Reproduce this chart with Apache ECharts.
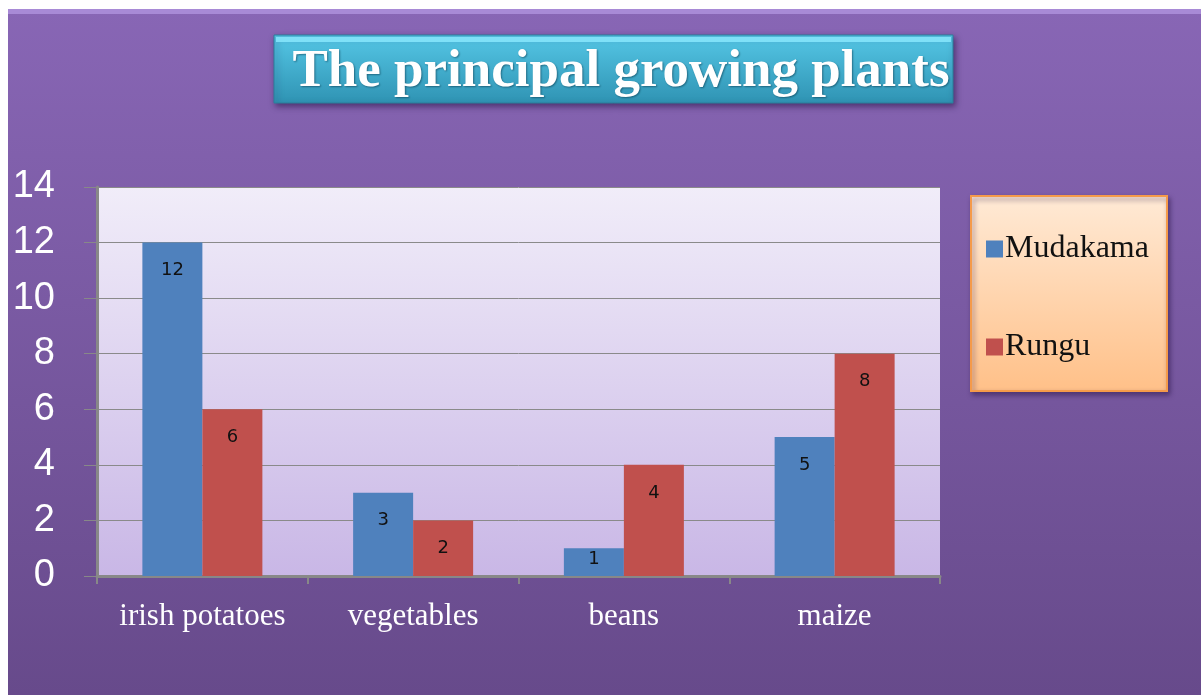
<!DOCTYPE html>
<html>
<head>
<meta charset="utf-8">
<script src="https://cdn.jsdelivr.net/npm/echarts@6/dist/echarts.min.js"></script>
<style>
  html, body { margin: 0; padding: 0; background: #fff; }
  #container { width: 1201px; height: 695px; }
</style>
</head>
<body>
<div id="container"></div>
<script>
const categories = ['irish potatoes', 'vegetables', 'beans', 'maize'];
const mudakama = [12, 3, 1, 5];
const rungu = [6, 2, 4, 8];

const chart = echarts.init(document.getElementById('container'));

const vgrad = (top, bottom) => new echarts.graphic.LinearGradient(0, 0, 0, 1, [
  { offset: 0, color: top },
  { offset: 1, color: bottom }
]);

const barLabel = {
  show: true,
  position: 'insideTop',
  distance: 19,
  color: '#111',
  fontSize: 18,
  fontFamily: 'DejaVu Sans'
};

// short bars keep their label near the top edge
const withLabels = arr => arr.map(v => v < 2 ? { value: v, label: { distance: 2 } } : v);

const option = {
  animation: false,
  graphic: [
    {
      type: 'rect',
      z: -10,
      shape: { x: 8, y: 9, width: 1193, height: 686 },
      style: { fill: vgrad('#8866b5', '#674a8b') }
    },
    {
      type: 'rect',
      z: -9,
      shape: { x: 8, y: 9, width: 1193, height: 5 },
      style: { fill: '#a88ad6' }
    },
    {
      // plot background
      type: 'rect',
      z: -5,
      shape: { x: 97, y: 187, width: 843, height: 389 },
      style: { fill: vgrad('#f1edf9', '#c9b7e6') }
    },
    {
      // title box
      type: 'rect',
      z: 5,
      shape: { x: 274, y: 35, width: 679, height: 68 },
      style: {
        fill: vgrad('#55c7e6', '#2f93b3'),
        stroke: '#2a7f9b',
        lineWidth: 1,
        shadowBlur: 6,
        shadowOffsetX: 2,
        shadowOffsetY: 3,
        shadowColor: 'rgba(40,20,70,0.6)'
      }
    },
    {
      type: 'rect',
      z: 6,
      shape: { x: 276, y: 37, width: 675, height: 5 },
      style: { fill: 'rgba(140,235,255,0.8)' }
    },
    {
      // legend box
      type: 'rect',
      z: 5,
      shape: { x: 971, y: 196, width: 196, height: 195 },
      style: {
        fill: vgrad('#ffead6', '#ffc088'),
        stroke: '#f59a4a',
        lineWidth: 2,
        shadowBlur: 5,
        shadowOffsetX: 2,
        shadowOffsetY: 3,
        shadowColor: 'rgba(40,20,70,0.5)'
      }
    }
  ],
  title: {
    text: 'The principal growing plants',
    left: 616,
    top: 41,
    textAlign: 'center',
    z: 10,
    textStyle: {
      color: '#fff',
      fontSize: 53,
      fontWeight: 'bold',
      fontFamily: 'Liberation Serif',
      textShadowColor: 'rgba(0,40,60,0.5)',
      textShadowBlur: 2,
      textShadowOffsetX: 1,
      textShadowOffsetY: 1
    }
  },
  legend: {
    orient: 'vertical',
    left: 981,
    top: 228,
    itemGap: 66,
    itemWidth: 17,
    itemHeight: 17,
    z: 10,
    icon: 'rect',
    textStyle: {
      color: '#111',
      fontSize: 32,
      fontFamily: 'Liberation Serif',
      padding: [0, 0, 0, -3]
    },
    data: ['Mudakama', 'Rungu']
  },
  grid: {
    left: 97,
    top: 187,
    width: 843,
    height: 389,
    containLabel: false
  },
  xAxis: {
    type: 'category',
    data: categories,
    axisLine: { lineStyle: { color: '#888', width: 3 } },
    axisTick: { show: true, interval: 0, length: 8, lineStyle: { color: '#888', width: 2 } },
    axisLabel: {
      interval: 0,
      color: '#fff',
      fontSize: 31,
      fontFamily: 'Liberation Serif',
      margin: 25
    }
  },
  yAxis: {
    type: 'value',
    min: 0,
    max: 14,
    interval: 2,
    axisLine: { show: true, lineStyle: { color: '#888', width: 3 } },
    axisTick: { show: true, length: 13, lineStyle: { color: '#888', width: 1 } },
    splitLine: { lineStyle: { color: '#8a8a8a', width: 1 } },
    axisLabel: {
      color: '#fff',
      fontSize: 38,
      fontFamily: 'Liberation Sans',
      margin: 42,
      align: 'right'
    }
  },
  series: [
    {
      name: 'Mudakama',
      type: 'bar',
      data: withLabels(mudakama),
      barWidth: 60,
      barGap: '0%',
      itemStyle: { color: '#4f81bd' },
      label: barLabel
    },
    {
      name: 'Rungu',
      type: 'bar',
      data: withLabels(rungu),
      barWidth: 60,
      barGap: '0%',
      itemStyle: { color: '#c0504d' },
      label: barLabel
    }
  ]
};

chart.setOption(option);
</script>
</body>
</html>
